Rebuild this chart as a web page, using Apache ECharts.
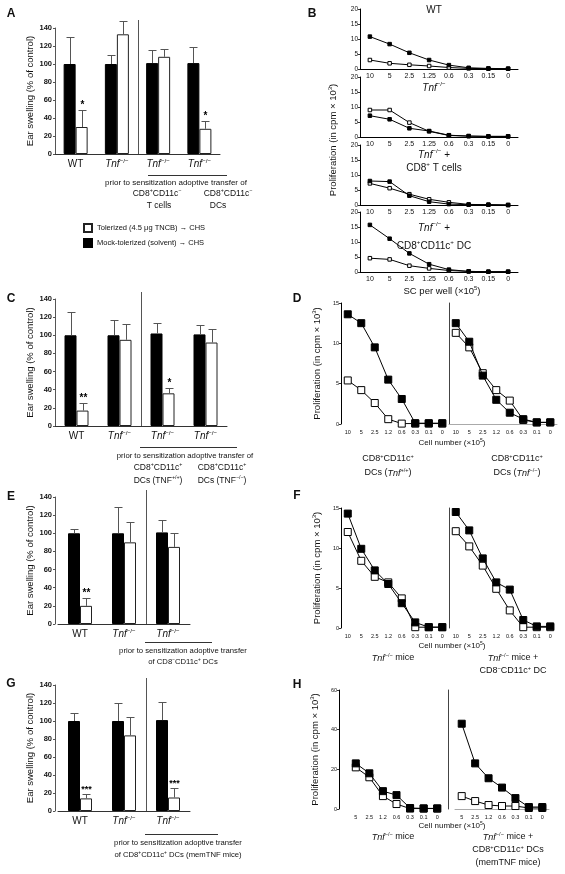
<!DOCTYPE html>
<html><head><meta charset="utf-8">
<script src="https://cdn.jsdelivr.net/npm/echarts@6/dist/echarts.min.js"></script>
<style>html,body{margin:0;padding:0;background:#fff}#c{width:565px;height:874px}</style>
</head><body><div id="c"></div>
<script>
// ---------- DATA ----------
const TOL = 'Tolerized (4.5 μg TNCB) → CHS';
const MOCK = 'Mock-tolerized (solvent) → CHS';
const barCats4 = ['WT', '*Tnf*^−/−^', '*Tnf*^−/−^', '*Tnf*^−/−^'];
const barCats3 = ['WT', '*Tnf*^−/−^', '*Tnf*^−/−^'];
// Panel A
const aMock = [100, 100, 101, 101];
const aMockErr = [130, 110, 116, 119];
const aTol = [30, 133, 108, 28];
const aTolErr = [49, 148, 117, 37];
const aStars = ['*', '', '', '*'];
// Panel C
const cMock = [100, 100, 102, 101];
const cMockErr = [126, 117, 113, 111];
const cTol = [17, 95, 36, 92];
const cTolErr = [25, 112, 42, 107];
const cStars = ['**', '', '*', ''];
// Panel E
const eMock = [100, 100, 101];
const eMockErr = [105, 129, 115];
const eTol = [20, 90, 85];
const eTolErr = [29, 112, 100];
const eStars = ['**', '', ''];
// Panel G
const gMock = [100, 100, 101];
const gMockErr = [109, 120, 121];
const gTol = [14, 84, 15];
const gTolErr = [19, 105, 26];
const gStars = ['***', '', '***'];
// Panel B
const scCats = ['10', '5', '2.5', '1.25', '0.6', '0.3', '0.15', '0'];
const b1Mock = [10.8, 8.3, 5.4, 3, 1.3, 0.4, 0.2, 0.1];
const b1Tol = [3, 1.9, 1.4, 1.0, 0.5, 0.2, 0.1, 0.1];
const b2Mock = [7.1, 5.9, 2.9, 2.0, 0.6, 0.3, 0.2, 0.2];
const b2Tol = [9, 9, 4.8, 1.9, 0.5, 0.3, 0.2, 0.2];
const b3Mock = [8, 7.8, 3.1, 1.1, 0.3, 0.1, 0.1, 0];
const b3Tol = [7.2, 5.6, 3.6, 1.9, 0.9, 0.2, 0.1, 0];
const b4Mock = [15.7, 11.1, 6.2, 2.6, 0.8, 0.2, 0.1, 0.1];
const b4Tol = [4.6, 4.2, 2.1, 1.2, 0.5, 0.2, 0.1, 0.1];
// Panel D
const cellCats = ['10', '5', '2.5', '1.2', '0.6', '0.3', '0.1', '0'];
const dLMock = [13.6, 12.5, 9.5, 5.5, 3.1, 0.1, 0.1, 0.1];
const dLTol = [5.4, 4.2, 2.6, 0.6, 0.05, 0.05, 0.05, 0.05];
const dRMock = [12.5, 10.2, 6.0, 3.0, 1.4, 0.6, 0.2, 0.2];
const dRTol = [11.3, 9.5, 6.3, 4.2, 2.9, 0.5, 0.2, 0.2];
// Panel F
const fLMock = [14.3, 9.9, 7.2, 5.5, 3.1, 0.7, 0.1, 0.1];
const fLTol = [12, 8.4, 6.4, 5.7, 3.7, 0.1, 0.1, 0.1];
const fRMock = [14.5, 12.2, 8.7, 5.7, 4.8, 1.0, 0.2, 0.2];
const fRTol = [12.1, 10.2, 7.8, 4.9, 2.2, 0.1, 0.1, 0.1];
// Panel H
const hCats = ['5', '2.5', '1.2', '0.6', '0.3', '0.1', '0'];
const hLMock = [23, 18, 9, 7, 0.5, 0.3, 0.3];
const hLTol = [21, 16, 6.5, 2.5, 0.2, 0.2, 0.2];
const hRMock = [43, 23, 15.5, 10.8, 5.5, 1, 1];
const hRTol = [6.5, 4, 2, 1.5, 1.5, 0.5, 0.5];

// ---------- HELPERS ----------
const F = '"Liberation Sans", Arial, Helvetica, sans-serif';
const BW = 12;
const ERR = '#555';
const grids = [], xAxes = [], yAxes = [], series = [], graphics = [];

function mk(s) {
  return s.split('\n').map(line => line.split(/(\*[^*]+\*|\^[^^]+\^)/).filter(t => t).map(t => {
    if (t[0] === '*') return '{i|' + t.slice(1, -1) + '}';
    if (t[0] === '^') return '{s|' + t.slice(1, -1) + '}';
    return '{n|' + t + '}';
  }).join('')).join('\n');
}
function richFor(size, weight) {
  const w = weight || 'normal';
  const lh = Math.round(size * 1.3);
  return {
    n: { fontSize: size, fontFamily: F, fontWeight: w, lineHeight: lh, color: '#111', fill: '#111' },
    i: { fontSize: size, fontFamily: F, fontStyle: 'italic', fontWeight: w, lineHeight: lh, color: '#111', fill: '#111' },
    s: { fontSize: Math.round(size * 0.62 * 10) / 10, fontFamily: F, fontWeight: w, verticalAlign: 'top', lineHeight: Math.round(size * 0.85), color: '#111', fill: '#111' }
  };
}
function txt(x, y, s, size, opts) {
  opts = opts || {};
  graphics.push({ type: 'text', x: x, y: y, rotation: opts.rot || 0, z: 100, silent: true,
    style: { text: mk(s), rich: richFor(size, opts.weight), align: opts.align || 'center', verticalAlign: 'middle',
      fill: '#111', fontSize: size, fontFamily: F, fontWeight: opts.weight || 'normal' } });
}
function hline(x1, y1, x2, y2, color) {
  graphics.push({ type: 'line', silent: true, z: 50, shape: { x1: x1, y1: y1, x2: x2, y2: y2 },
    style: { stroke: color || '#333', lineWidth: 1 } });
}
function errSeries(gi, vals, errs, stars, side) {
  return { type: 'custom', xAxisIndex: gi, yAxisIndex: gi, z: 5, silent: true, clip: false,
    data: vals.map((v, i) => [i, v, errs[i]]),
    encode: { x: 0, y: [1, 2] },
    renderItem: (params, api) => {
      const i = api.value(0);
      const b = api.coord([i, api.value(1)]), t = api.coord([i, api.value(2)]);
      const cx = Math.round(b[0] + side * BW / 2) + 0.5;
      const ty = Math.round(t[1]) + 0.5;
      const ch = [
        { type: 'line', shape: { x1: cx, y1: b[1], x2: cx, y2: ty }, style: { stroke: ERR, lineWidth: 1 } },
        { type: 'line', shape: { x1: cx - 4, y1: ty, x2: cx + 4, y2: ty }, style: { stroke: ERR, lineWidth: 1 } }
      ];
      const s = stars[params.dataIndex];
      if (s) ch.push({ type: 'text', x: cx, y: ty - 5, style: { text: s, align: 'center', verticalAlign: 'middle',
        fontSize: s.length > 2 ? 9 : 10, fontWeight: 'bold', fill: '#000', fontFamily: F } });
      return { type: 'group', children: ch };
    } };
}
function barPanel(g, cats, mock, mockErr, tol, tolErr, stars) {
  const gi = grids.length;
  grids.push({ left: g.l, top: g.t, width: g.w, height: g.h, containLabel: false, outerBoundsMode: 'none' });
  xAxes.push({ type: 'category', gridIndex: gi, data: cats, axisTick: { show: false },
    axisLine: { show: true, lineStyle: { color: '#333', width: 1 } },
    axisLabel: { interval: 0, margin: 4, formatter: v => mk(v), rich: richFor(10), color: '#111' } });
  yAxes.push({ type: 'value', gridIndex: gi, min: 0, max: 140, interval: 20, offset: g.off || 0,
    name: 'Ear swelling (% of control)', nameLocation: 'middle', nameGap: g.ng || 19,
    nameTextStyle: { fontSize: 9.5, color: '#111', fontFamily: F },
    axisLine: { show: true, lineStyle: { color: '#555' } },
    axisTick: { show: true, length: 2, lineStyle: { color: '#555' } },
    axisLabel: { fontSize: 7.5, fontWeight: 'bold', margin: 3, color: '#111', fontFamily: F },
    splitLine: { show: false } });
  series.push({ type: 'bar', name: MOCK, xAxisIndex: gi, yAxisIndex: gi, data: mock, barWidth: BW, barGap: '0%',
    itemStyle: { color: '#000', borderColor: '#000', borderWidth: 1 }, z: 2 });
  series.push({ type: 'bar', name: TOL, xAxisIndex: gi, yAxisIndex: gi, data: tol, barWidth: BW, barGap: '0%',
    itemStyle: { color: '#fff', borderColor: '#222', borderWidth: 1 }, z: 2 });
  series.push(errSeries(gi, mock, mockErr, [], -1));
  series.push(errSeries(gi, tol, tolErr, stars, 1));
  const sx = Math.round(g.l + 2 * g.w / cats.length) + 0.5;
  hline(sx, g.sepTop, sx, g.t + g.h, '#555');
}
function linePanel(g, cats, mock, tol, o) {
  const gi = grids.length;
  grids.push({ left: g.l, top: g.t, width: g.w, height: g.h, containLabel: false, outerBoundsMode: 'none' });
  xAxes.push({ type: 'category', gridIndex: gi, data: cats, boundaryGap: true, axisTick: { show: false },
    axisLine: { show: !!o.xLine, lineStyle: { color: o.xLine || '#000', width: 1 } },
    axisLabel: { interval: 0, fontSize: o.xfs, margin: o.xm, color: '#111', fontFamily: F } });
  const y = { type: 'value', gridIndex: gi, min: 0, max: o.ymax, interval: o.yint, offset: g.off || 0,
    axisLine: { show: true, lineStyle: { color: o.yColor || '#000' } },
    axisTick: { show: !!o.yLabels, length: 2, lineStyle: { color: '#333' } },
    axisLabel: { show: !!o.yLabels, fontSize: o.yfs, margin: 2, color: '#111', fontFamily: F },
    splitLine: { show: false } };
  if (o.yName) {
    y.name = mk('Proliferation (in cpm × 10^3^)');
    y.nameLocation = 'middle'; y.nameGap = o.yng;
    y.nameTextStyle = { rich: richFor(9.5), fontSize: 9.5 };
  }
  yAxes.push(y);
  series.push({ type: 'line', xAxisIndex: gi, yAxisIndex: gi, data: tol, symbol: 'rect', symbolSize: o.ss,
    showSymbol: true, lineStyle: { color: '#000', width: 1 },
    itemStyle: { color: '#fff', borderColor: '#000', borderWidth: 1 }, z: 2 });
  series.push({ type: 'line', xAxisIndex: gi, yAxisIndex: gi, data: mock, symbol: 'rect', symbolSize: o.ss,
    showSymbol: true, lineStyle: { color: '#000', width: 1 },
    itemStyle: { color: '#000', borderColor: '#000', borderWidth: 1 }, z: 3 });
}

// ---------- PANEL A ----------
barPanel({ l: 55, t: 28, w: 165, h: 126, sepTop: 20 }, barCats4, aMock, aMockErr, aTol, aTolErr, aStars);
hline(148, 175.5, 227, 175.5, '#333');
txt(176, 183, 'prior to sensitization adoptive transfer of', 8);
txt(157, 194, 'CD8^+^CD11c^−^', 8.5);
txt(228, 194, 'CD8^+^CD11c^−^', 8.5);
txt(159, 206, 'T cells', 8.5);
txt(218, 206, 'DCs', 8.5);

// ---------- PANEL B ----------
const bOpt = { ymax: 20, yint: 5, ss: 3.5, xfs: 7, xm: 4, yfs: 6.5, yLabels: true, xLine: '#000' };
linePanel({ l: 360, t: 9, w: 158, h: 60 }, scCats, b1Mock, b1Tol, bOpt);
linePanel({ l: 360, t: 77, w: 158, h: 60 }, scCats, b2Mock, b2Tol, bOpt);
linePanel({ l: 360, t: 145, w: 158, h: 60 }, scCats, b3Mock, b3Tol, bOpt);
linePanel({ l: 360, t: 212, w: 158, h: 60 }, scCats, b4Mock, b4Tol, bOpt);
txt(434, 10, 'WT', 10);
txt(434, 88, '*Tnf*^−/−^', 10);
txt(434, 155, '*Tnf*^−/−^ +', 10);
txt(434, 168, 'CD8^+^ T cells', 10);
txt(434, 228, '*Tnf*^−/−^ +', 10);
txt(434, 246, 'CD8^+^CD11c^+^ DC', 10);
txt(442, 291, 'SC per well (×10^5^)', 9.5);
txt(333, 140, 'Proliferation (in cpm × 10^3^)', 9.5, { rot: Math.PI / 2 });

// ---------- PANEL C ----------
barPanel({ l: 55, t: 299, w: 172, h: 127, sepTop: 292 }, barCats4, cMock, cMockErr, cTol, cTolErr, cStars);
hline(140, 447.5, 237, 447.5, '#333');
txt(185, 456, 'prior to sensitization adoptive transfer of', 7.7);
txt(158, 468, 'CD8^+^CD11c^+^', 8.5);
txt(158, 481, 'DCs (TNF^+/+^)', 8.5);
txt(222, 468, 'CD8^+^CD11c^+^', 8.5);
txt(222, 481, 'DCs (TNF^−/−^)', 8.5);

// ---------- PANEL D ----------
linePanel({ l: 341, t: 303, w: 108, h: 121 }, cellCats, dLMock, dLTol,
  { ymax: 15, yint: 5, ss: 7, xfs: 5.5, xm: 5, yfs: 5.5, yLabels: true, yName: true, yng: 18 });
linePanel({ l: 449, t: 303, w: 108, h: 121 }, cellCats, dRMock, dRTol,
  { ymax: 15, yint: 5, ss: 7, xfs: 5.5, xm: 5, yfs: 5.5, yLabels: false, xLine: '#aaa', yColor: '#444' });
txt(452, 443, 'Cell number (×10^5^)', 8);
txt(388, 459, 'CD8^+^CD11c^+^', 9);
txt(388, 473, 'DCs (*Tnf*^+/+^)', 9);
txt(517, 459, 'CD8^+^CD11c^+^', 9);
txt(517, 473, 'DCs (*Tnf*^−/−^)', 9);

// ---------- PANEL E ----------
barPanel({ l: 58, t: 497, w: 132, h: 127, off: 3, ng: 16, sepTop: 490 }, barCats3, eMock, eMockErr, eTol, eTolErr, eStars);
hline(145, 642.5, 212, 642.5, '#333');
txt(183, 651, 'prior to sensitization adoptive transfer', 7.7);
txt(183, 662, 'of CD8^−^CD11c^+^ DCs', 7.7);

// ---------- PANEL F ----------
linePanel({ l: 341, t: 508, w: 108, h: 120 }, cellCats, fLMock, fLTol,
  { ymax: 15, yint: 5, ss: 7, xfs: 5.5, xm: 5, yfs: 5.5, yLabels: true, yName: true, yng: 18 });
linePanel({ l: 449, t: 508, w: 108, h: 120 }, cellCats, fRMock, fRTol,
  { ymax: 15, yint: 5, ss: 7, xfs: 5.5, xm: 5, yfs: 5.5, yLabels: false, yColor: '#444' });
txt(452, 646, 'Cell number (×10^5^)', 8);
txt(393, 658, '*Tnf*^−/−^ mice', 9);
txt(513, 658, '*Tnf*^−/−^ mice +', 9);
txt(513, 671, 'CD8^−^CD11c^+^ DC', 9);

// ---------- PANEL G ----------
barPanel({ l: 58, t: 685, w: 132, h: 126, off: 3, ng: 16, sepTop: 678 }, barCats3, gMock, gMockErr, gTol, gTolErr, gStars);
hline(145, 834.5, 218, 834.5, '#333');
txt(178, 843, 'prior to sensitization adoptive transfer', 7.7);
txt(178, 855, 'of CD8^+^CD11c^+^ DCs (memTNF mice)', 7.7);

// ---------- PANEL H ----------
linePanel({ l: 349, t: 690, w: 95, h: 119, off: 10 }, hCats, hLMock, hLTol,
  { ymax: 60, yint: 20, ss: 7, xfs: 5.5, xm: 5, yfs: 5.5, yLabels: true, yName: true, yng: 18 });
linePanel({ l: 455, t: 690, w: 94, h: 119, off: 7 }, hCats, hRMock, hRTol,
  { ymax: 60, yint: 20, ss: 7, xfs: 5.5, xm: 5, yfs: 5.5, yLabels: false, xLine: '#aaa', yColor: '#444' });
txt(452, 826, 'Cell number (×10^5^)', 8);
txt(393, 837, '*Tnf*^−/−^ mice', 9);
txt(508, 837, '*Tnf*^−/−^ mice +', 9);
txt(508, 850, 'CD8^+^CD11c^+^ DCs', 9);
txt(508, 863, '(memTNF mice)', 9);

// ---------- PANEL LETTERS ----------
[['A', 11, 14], ['B', 312, 14], ['C', 11, 299], ['D', 297, 299], ['E', 11, 497], ['F', 297, 496], ['G', 11, 684], ['H', 297, 685]]
  .forEach(p => txt(p[1], p[2], p[0], 12, { weight: 'bold' }));

const chart = echarts.init(document.getElementById('c'), null, { renderer: 'canvas' });
chart.setOption({
  animation: false,
  backgroundColor: '#fff',
  textStyle: { fontFamily: F, color: '#111' },
  legend: { left: 83, top: 223, padding: 0, orient: 'vertical', itemWidth: 8, itemHeight: 8, itemGap: 5, icon: 'rect',
    selectedMode: false, data: [TOL, MOCK], textStyle: { fontSize: 7.5, color: '#111', fontFamily: F } },
  grid: grids, xAxis: xAxes, yAxis: yAxes, series: series, graphic: graphics
});
</script></body></html>
